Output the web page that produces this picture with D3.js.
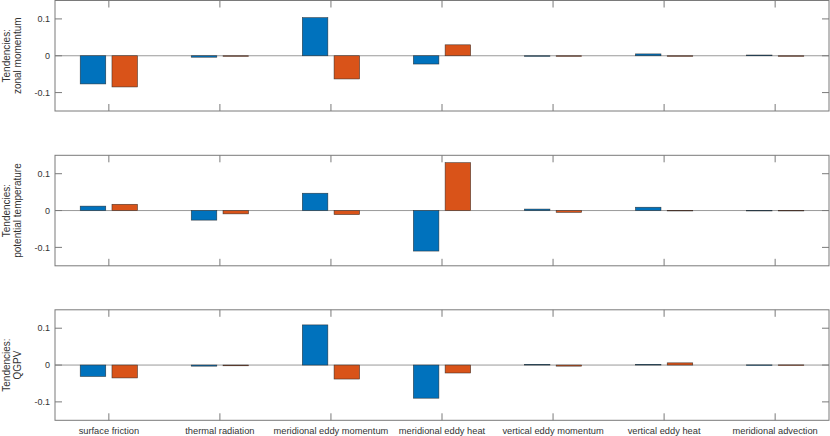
<!DOCTYPE html>
<html>
<head>
<meta charset="utf-8">
<script src="https://cdn.jsdelivr.net/npm/d3@7"></script>
<style>
  body { margin: 0; background: #fff; }
  text { font-family: "Liberation Sans", Arial, Helvetica, sans-serif; }
</style>
</head>
<body>
<div id="chart"></div>
<script>
var categories = ["surface friction", "thermal radiation", "meridional eddy momentum",
                  "meridional eddy heat", "vertical eddy momentum", "vertical eddy heat",
                  "meridional advection"];

// blue = first series, orange = second series
var zonalBlue   = [-0.0765, -0.004,  0.1035, -0.0225, -0.001,  0.005, 0.002];
var zonalOrange = [-0.0847, -0.001, -0.063,   0.0297, -0.001, -0.001, -0.001];
var thetaBlue   = [ 0.012,  -0.026,  0.047,  -0.110,   0.004,  0.009, 0.0005];
var thetaOrange = [ 0.017,  -0.009, -0.011,   0.130,  -0.005,  0.0005, 0.0005];
var qgpvBlue    = [-0.031,  -0.003,  0.109,  -0.090,   0.002,  0.002, 0.0005];
var qgpvOrange  = [-0.035,  -0.002, -0.038,  -0.0216, -0.003,  0.006, 0.0005];

var yTicks = [-0.1, 0, 0.1];
var yLabels = [["Tendencies:", "zonal momentum"],
               ["Tendencies:", "potential temperature"],
               ["Tendencies:", "QGPV"]];
var panelData = [[zonalBlue, zonalOrange], [thetaBlue, thetaOrange], [qgpvBlue, qgpvOrange]];

var chart_width = 830;
var chart_height = 436;
var left = 55, right = 829;
var panel_tops = [0.5, 155.3, 309.8];
var panel_h = 110.5;
var tick_len = 7;
var colors = ["#0072BD", "#D95319"];
var offsets = [-0.143, 0.143];
var bar_w = 0.23;
var axis_color = "#7a7a7a";
var text_color = "#333";

var svg = d3.select("#chart")
    .append("svg")
    .attr("width", chart_width)
    .attr("height", chart_height);

var x_scale = d3.scaleLinear()
    .domain([0.515, 7.485])
    .range([left, right]);

panelData.forEach(function(series, p){
    var top = panel_tops[p];
    var bottom = top + panel_h;
    var y_scale = d3.scaleLinear()
        .domain([-0.15, 0.15])
        .range([bottom, top]);

    var g = svg.append("g");

    // baseline
    g.append("line")
        .attr("x1", left).attr("x2", right)
        .attr("y1", y_scale(0)).attr("y2", y_scale(0))
        .attr("stroke", "#9a9a9a")
        .attr("stroke-width", 1);

    // bars
    series.forEach(function(vals, s){
        g.selectAll(null)
            .data(vals)
            .enter()
            .append("rect")
            .attr("x", function(d, i){ return x_scale(i + 1 + offsets[s] - bar_w / 2); })
            .attr("width", x_scale(bar_w) - x_scale(0))
            .attr("y", function(d){ return y_scale(Math.max(0, d)); })
            .attr("height", function(d){ return Math.max(0.6, Math.abs(y_scale(d) - y_scale(0))); })
            .attr("fill", colors[s])
            .attr("stroke", "#222")
            .attr("stroke-opacity", 0.8)
            .attr("stroke-width", 0.6);
    });

    // box
    g.append("rect")
        .attr("x", left).attr("y", top)
        .attr("width", right - left).attr("height", panel_h)
        .attr("fill", "none")
        .attr("stroke", axis_color)
        .attr("stroke-width", 1);

    // x ticks (inside, top and bottom)
    d3.range(1, 8).forEach(function(k){
        var xx = x_scale(k);
        g.append("line").attr("x1", xx).attr("x2", xx)
            .attr("y1", bottom).attr("y2", bottom - tick_len)
            .attr("stroke", axis_color);
        g.append("line").attr("x1", xx).attr("x2", xx)
            .attr("y1", top).attr("y2", top + tick_len)
            .attr("stroke", axis_color);
    });

    // y ticks and labels
    yTicks.forEach(function(t){
        var yy = y_scale(t);
        g.append("line").attr("x1", left).attr("x2", left + tick_len)
            .attr("y1", yy).attr("y2", yy).attr("stroke", axis_color);
        g.append("line").attr("x1", right).attr("x2", right - tick_len)
            .attr("y1", yy).attr("y2", yy).attr("stroke", axis_color);
        g.append("text")
            .attr("x", left - 5)
            .attr("y", yy)
            .attr("dy", "0.35em")
            .attr("text-anchor", "end")
            .attr("font-size", "9px")
            .attr("fill", text_color)
            .text(t === 0 ? "0" : d3.format(".1f")(t).replace("−", "-"));
    });

    // y label (two lines, rotated)
    var mid = (top + bottom) / 2;
    yLabels[p].forEach(function(line, j){
        g.append("text")
            .attr("transform", "translate(" + (10 + j * 10.5) + "," + mid + ") rotate(-90)")
            .attr("text-anchor", "middle")
            .attr("font-size", "10px")
            .attr("fill", text_color)
            .text(line);
    });

    // category labels only on the last panel
    if (p === panelData.length - 1) {
        g.selectAll(null)
            .data(categories)
            .enter()
            .append("text")
            .attr("x", function(d, i){ return x_scale(i + 1); })
            .attr("y", 433.5)
            .attr("text-anchor", "middle")
            .attr("font-size", "9.3px")
            .attr("fill", text_color)
            .text(function(d){ return d; });
    }
});
</script>
</body>
</html>
